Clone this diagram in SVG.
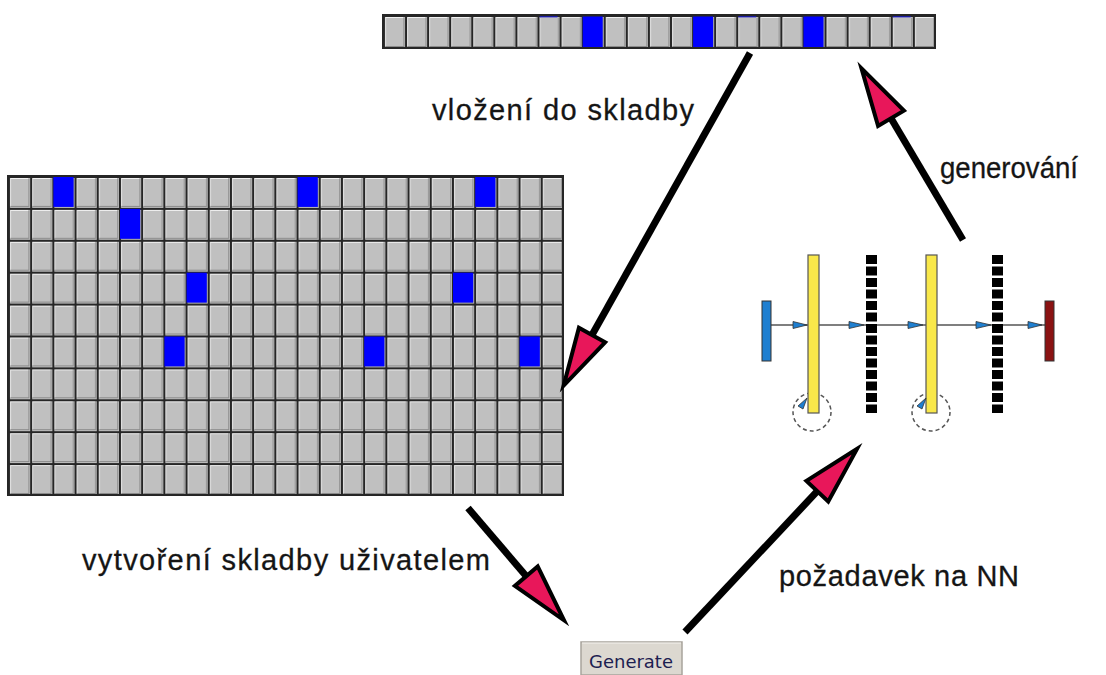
<svg xmlns="http://www.w3.org/2000/svg" width="1106" height="675" viewBox="0 0 1106 675">
<style>
.lbl{font-family:"Liberation Sans",Arial,sans-serif;font-size:29px;fill:#151515;stroke:#151515;stroke-width:0.3}
.conn{stroke:#000;stroke-width:7;fill:none}
.blue{fill:#0000ff}
.ybar{fill:#f9e84a;stroke:#555;stroke-width:1.2}
.dbar{stroke:#000;stroke-width:11;stroke-dasharray:9 2.5;fill:none}
.circ{fill:none;stroke:#555;stroke-width:1.5;stroke-dasharray:4 3}
.sarrow{fill:#1f7fd0;stroke:#333;stroke-width:0.8}
</style>
<defs>
<pattern id="cellA" x="8" y="176" width="22.2" height="31.9" patternUnits="userSpaceOnUse">
<rect width="22.2" height="31.9" fill="#c0c0c0"/>
<path d="M2.5 30.5V2.5H20.5" stroke="#f2f2f2" stroke-width="1" fill="none"/>
<path d="M21 2.5V30.5H2.5" stroke="#8a8a8a" stroke-width="1" fill="none"/>
<path d="M1 0V31.9M0 1H22.2" stroke="#262626" stroke-width="2" fill="none"/>
</pattern>
<pattern id="cellB" x="383" y="15" width="22.08" height="33" patternUnits="userSpaceOnUse">
<rect width="22.08" height="33" fill="#c0c0c0"/>
<path d="M2.5 31.5V2.5H20.5" stroke="#f2f2f2" stroke-width="1" fill="none"/>
<path d="M21 2.5V31.5H2.5" stroke="#8a8a8a" stroke-width="1" fill="none"/>
<path d="M1 0V33M0 1H22.08" stroke="#262626" stroke-width="2" fill="none"/>
</pattern>
<marker id="head" markerUnits="userSpaceOnUse" viewBox="-6 -22 72 44" refX="0" refY="0" markerWidth="72" markerHeight="44" orient="auto" overflow="visible">
<path d="M0,-15 L58,0 L0,15 Z" fill="#e8175a" stroke="#000" stroke-width="4" stroke-linejoin="miter"/>
</marker>
</defs>
<rect width="1106" height="675" fill="#fff"/>

<g id="strip">
<rect x="383" y="15" width="552" height="33" fill="url(#cellB)"/>
<rect x="383" y="15" width="552" height="33" fill="none" stroke="#262626" stroke-width="2"/>
<rect class="blue" x="582.7" y="16.5" width="20" height="30.5"/>
<rect class="blue" x="693.1" y="16.5" width="20" height="30.5"/>
<rect class="blue" x="803.5" y="16.5" width="20" height="30.5"/>
<path d="M539.6 16.8H557.6M738.3 16.8H756.3M892.8 16.8H910.8" stroke="#1a1aa0" stroke-width="1.5"/>
</g>

<g id="grid">
<rect x="8" y="176" width="555" height="319" fill="url(#cellA)"/>
<rect x="8" y="176" width="555" height="319" fill="none" stroke="#262626" stroke-width="2"/>
<rect class="blue" x="53.4" y="177" width="20.2" height="29.9"/>
<rect class="blue" x="297.6" y="177" width="20.2" height="29.9"/>
<rect class="blue" x="475.2" y="177" width="20.2" height="29.9"/>
<rect class="blue" x="120" y="208.9" width="20.2" height="29.9"/>
<rect class="blue" x="186.6" y="272.7" width="20.2" height="29.9"/>
<rect class="blue" x="453" y="272.7" width="20.2" height="29.9"/>
<rect class="blue" x="164.4" y="336.5" width="20.2" height="29.9"/>
<rect class="blue" x="364.2" y="336.5" width="20.2" height="29.9"/>
<rect class="blue" x="519.6" y="336.5" width="20.2" height="29.9"/>
</g>

<g id="nn">
<circle class="circ" cx="812" cy="412" r="19"/>
<circle class="circ" cx="931" cy="412" r="19"/>
<line x1="771" y1="325" x2="1045" y2="325" stroke="#555" stroke-width="1.5"/>
<rect x="762" y="301" width="9" height="60" fill="#1f7fd0" stroke="#333" stroke-width="1"/>
<rect x="1045" y="301" width="9" height="60" fill="#8a1212" stroke="#333" stroke-width="1"/>
<rect class="ybar" x="808" y="255" width="11" height="158"/>
<rect class="ybar" x="926" y="255" width="11" height="158"/>
<line class="dbar" x1="871.5" y1="255" x2="871.5" y2="413"/>
<line class="dbar" x1="997.5" y1="255" x2="997.5" y2="413"/>
<path class="sarrow" d="M793 321.5L807 325L793 328.5Z"/>
<path class="sarrow" d="M849 321.5L864 325L849 328.5Z"/>
<path class="sarrow" d="M908 321.5L923 325L908 328.5Z"/>
<path class="sarrow" d="M976 321.5L991 325L976 328.5Z"/>
<path class="sarrow" d="M1028 321.5L1042 325L1028 328.5Z"/>
<path class="sarrow" d="M798 406L807 398L803 409Z"/>
<path class="sarrow" d="M917 406L926 398L922 409Z"/>
</g>

<g id="button">
<rect x="581" y="642" width="101" height="33" fill="#dcd8d0" stroke="#a8a49c" stroke-width="1.5"/>
<line x1="582" y1="643" x2="681" y2="643" stroke="#f4f2ee" stroke-width="1"/>
<text x="589" y="668" font-family="Tahoma,'DejaVu Sans',sans-serif" font-size="18" fill="#1c2050" textLength="84" lengthAdjust="spacingAndGlyphs">Generate</text>
</g>

<g id="connectors">
<line class="conn" x1="750" y1="53" x2="592" y2="335" marker-end="url(#head)"/>
<line class="conn" x1="963" y1="240" x2="891" y2="118.3" marker-end="url(#head)"/>
<line class="conn" x1="468" y1="508" x2="526.3" y2="576.2" marker-end="url(#head)"/>
<line class="conn" x1="685" y1="632" x2="817.3" y2="491.2" marker-end="url(#head)"/>
<text class="lbl" x="432" y="120" textLength="262" lengthAdjust="spacing">vložení do skladby</text>
<text class="lbl" x="940" y="178" textLength="138" lengthAdjust="spacingAndGlyphs">generování</text>
<text class="lbl" x="82" y="570" textLength="408" lengthAdjust="spacing">vytvoření skladby uživatelem</text>
<text class="lbl" x="779" y="586" textLength="240" lengthAdjust="spacing">požadavek na NN</text>
</g>
</svg>
